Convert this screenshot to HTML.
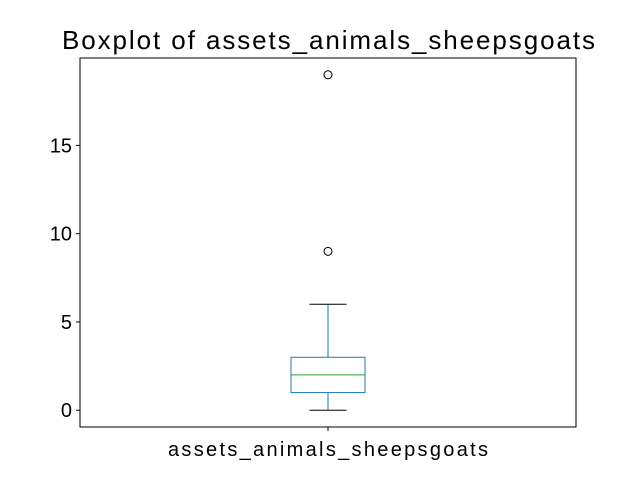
<!DOCTYPE html>
<html><head><meta charset="utf-8"><style>
body{margin:0;background:#fff;}
svg text{font-family:"Liberation Sans",sans-serif;fill:#000;}
</style></head><body>
<svg width="640" height="480" xmlns="http://www.w3.org/2000/svg">
<rect width="640" height="480" fill="#fff"/>
<text x="62" y="49" font-size="26" textLength="533" lengthAdjust="spacing">Boxplot of assets_animals_sheepsgoats</text>
<g id="plot"></g>
<rect x="80" y="58" width="496" height="369" fill="none" stroke="#000" stroke-width="1"/>
<text x="168" y="456" font-size="20" textLength="320" lengthAdjust="spacing">assets_animals_sheepsgoats</text>
</svg>
<script>
const categories=["assets_animals_sheepsgoats"];
const whiskerLow=[0];
const q1=[1];
const median=[2];
const q3=[3];
const whiskerHigh=[6];
const fliers=[[9,19]];
const yTicks=[0,5,10,15];
const yMin=-0.95,yMax=19.95;
const top_=58,bottom=427;
const ns="http://www.w3.org/2000/svg";
const g=document.getElementById('plot');
function y(v){return bottom-(v-yMin)/(yMax-yMin)*(bottom-top_);}
function x(i){return 328;}
function mk(t,a){const e=document.createElementNS(ns,t);for(const k in a)e.setAttribute(k,a[k]);g.appendChild(e);return e;}
yTicks.forEach(t=>{
 const l=mk('line',{x1:76,x2:80,y1:y(t),y2:y(t),stroke:'#000'});
 
 
 const tx=mk('text',{x:72,y:y(t)+7,'font-size':20,'text-anchor':'end'});
 tx.textContent=t;
 
 
});
categories.forEach((c,i)=>{
 const cx=x(i),hw=37,cw=18.5;
 const w1=mk('line',{x1:cx,x2:cx,y1:y(whiskerLow[i]),y2:y(q1[i]),stroke:'#1f77b4'});
 
 
 const w2=mk('line',{x1:cx,x2:cx,y1:y(q3[i]),y2:y(whiskerHigh[i]),stroke:'#1f77b4'});
 
 
 const c1=mk('line',{x1:cx-cw,x2:cx+cw,y1:y(whiskerLow[i]),y2:y(whiskerLow[i]),stroke:'#000'});
 
 
 const c2=mk('line',{x1:cx-cw,x2:cx+cw,y1:y(whiskerHigh[i]),y2:y(whiskerHigh[i]),stroke:'#000'});
 
 
 const b=mk('rect',{x:cx-hw,y:y(q3[i]),width:2*hw,height:y(q1[i])-y(q3[i]),fill:'none',stroke:'#1f77b4'});
 
 
 const m=mk('line',{x1:cx-hw,x2:cx+hw,y1:y(median[i]),y2:y(median[i]),stroke:'#2ca02c'});
 
 
 fliers[i].forEach(f=>{
  const p=mk('circle',{cx:cx,cy:y(f),r:4,fill:'none',stroke:'#000'});
  
  
 });
 const xt=mk('line',{x1:cx,x2:cx,y1:427,y2:431,stroke:'#000'});
 
 
});
</script>
</body></html>
